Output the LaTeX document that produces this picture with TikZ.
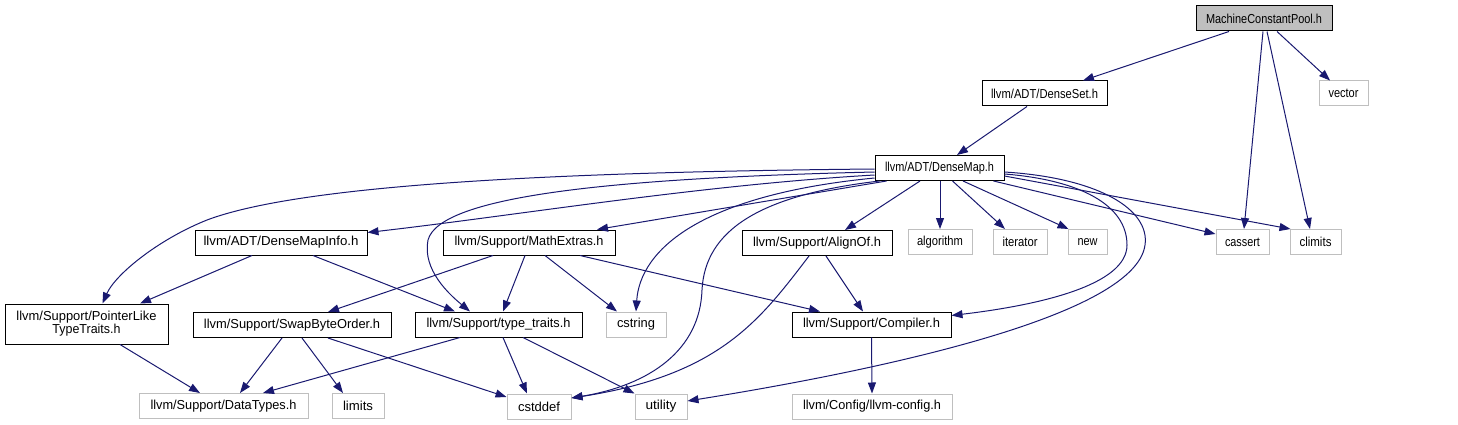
\documentclass[tikz,border=0pt]{standalone}
\usepackage{fontspec}
\usepackage{graphicx}
\setmainfont{Liberation Sans}
\usetikzlibrary{arrows.meta}
\definecolor{edgecol}{HTML}{191970}
\definecolor{lgray}{HTML}{BFBFBF}
\newcommand{\fitT}[2]{\resizebox{#1pt}{\height}{#2}}
\tikzset{
  box/.style={rectangle, draw=black, fill=white, line width=1pt, inner sep=0pt,
    minimum height=25pt, font=\fontsize{13}{14}\selectfont, text=black},
  gbox/.style={box, draw=lgray},
  edge/.style={draw=edgecol, line width=1pt, -{Triangle[length=11pt,width=8pt]}},
}
\begin{document}
\begin{tikzpicture}[x=1pt,y=-1pt]
\useasboundingbox (0,0) rectangle (1458,425);
% nodes
\node[box, fill=lgray, minimum width=136pt] (mcp) at (1264,18.5) {\fitT{116}{MachineConstantPool.h}};
\node[box, minimum width=125pt] (dset) at (1044.5,93.5) {\fitT{107}{llvm/ADT/DenseSet.h}};
\node[gbox, minimum width=49pt] (vector) at (1343.5,93.5) {\fitT{30}{vector}};
\node[box, minimum width=129pt] (dmap) at (939.5,168) {\fitT{109}{llvm/ADT/DenseMap.h}};
\node[box, minimum width=172pt] (dmi) at (281,242.5) {\fitT{155}{llvm/ADT/DenseMapInfo.h}};
\node[box, minimum width=172pt] (mext) at (529,242.5) {\fitT{149}{llvm/Support/MathExtras.h}};
\node[box, minimum width=150pt] (align) at (817,243) {\fitT{128}{llvm/Support/AlignOf.h}};
\node[gbox, minimum width=64pt] (algo) at (940,242) {\fitT{46}{algorithm}};
\node[gbox, minimum width=54pt] (iter) at (1020,242) {\fitT{35}{iterator}};
\node[gbox, minimum width=39pt] (new) at (1087.5,242) {\fitT{20}{new}};
\node[gbox, minimum width=53pt] (cassert) at (1242.5,242) {\fitT{35}{cassert}};
\node[gbox, minimum width=51pt] (climits) at (1315.5,242) {\fitT{32}{climits}};
\node[box, minimum width=163pt, minimum height=40pt, align=center] (ptr) at (86.5,324)
  {\fitT{140}{llvm/Support/PointerLike}\\[-1pt]\fitT{68}{TypeTraits.h}};
\node[box, minimum width=198pt] (swap) at (292,325) {\fitT{176}{llvm/Support/SwapByteOrder.h}};
\node[box, minimum width=167pt] (tt) at (498.5,324.5) {\fitT{144}{llvm/Support/type\_traits.h}};
\node[gbox, minimum width=60pt] (cstring) at (636,324.5) {\fitT{38}{cstring}};
\node[box, minimum width=159pt] (comp) at (871.5,324.5) {\fitT{137}{llvm/Support/Compiler.h}};
\node[gbox, minimum width=169pt] (dtypes) at (223.5,406) {\fitT{146}{llvm/Support/DataTypes.h}};
\node[gbox, minimum width=52pt] (limits) at (358,406) {\fitT{30}{limits}};
\node[gbox, minimum width=64pt] (cstddef) at (539,406.5) {\fitT{42}{cstddef}};
\node[gbox, minimum width=52pt] (utility) at (661,406.5) {\fitT{31}{utility}};
\node[gbox, minimum width=160pt] (cfg) at (872,406.5) {\fitT{138}{llvm/Config/llvm-config.h}};
% edges from MachineConstantPool.h
\draw[edge] ([xshift=-35pt]mcp.south) -- ([xshift=38.5pt]dset.north);
\draw[edge] ([xshift=-1pt]mcp.south) -- ([xshift=1.5pt]cassert.north);
\draw[edge] ([xshift=3pt]mcp.south) -- ([xshift=-5.5pt]climits.north);
\draw[edge] ([xshift=13pt]mcp.south) -- ([xshift=-13.5pt]vector.north);
% DenseSet
\draw[edge] ([xshift=-17.5pt]dset.south) -- ([xshift=17.5pt]dmap.north);
% DenseMap
\draw[edge] ([xshift=0.5pt]dmap.south) -- (algo.north);
\draw[edge] ([xshift=13pt]dmap.south) -- ([xshift=-15pt]iter.north);
\draw[edge] ([xshift=23.5pt]dmap.south) -- ([xshift=-19pt]new.north);
\draw[edge] ([xshift=-11pt]dmap.south east) -- ([yshift=8pt]cassert.west);
\draw[edge] ([yshift=-8pt]dmap.east) -- ([xshift=1pt]climits.north west);
\draw[edge] ([xshift=-19.5pt]dmap.south) -- ([xshift=28pt]align.north);
\draw[edge] ([yshift=-6pt]dmap.east) .. controls (1080,180) and (1127,205) .. (1127,245)
  .. controls (1127,285) and (1040,305) .. ([yshift=9pt]comp.east);
\draw[edge] ([yshift=-4pt]dmap.east) .. controls (1100,178) and (1150,210) .. (1145,245)
  .. controls (1135,320) and (850,375) .. ([yshift=5.5pt]utility.east);
\draw[edge] ([xshift=5pt]dmap.south west) .. controls (760,195) and (705,230) .. (702,290)
  .. controls (700,350) and (650,385) .. ([yshift=8.5pt]cstddef.east);
\draw[edge] ([yshift=-10pt]dmap.west) .. controls (700,195) and (640,250) .. (cstring.north);
\draw[edge] ([yshift=-4pt]dmap.west) .. controls (620,178) and (440,195) .. (428,240)
  .. controls (422,270) and (450,295) .. ([xshift=-28.5pt]tt.north);
\draw[edge] ([yshift=-1pt]dmap.west) .. controls (550,172) and (300,185) .. (207,220)
  .. controls (157,240) and (115,275) .. ([xshift=16pt]ptr.north);
\draw[edge] ([yshift=-7pt]dmap.west) .. controls (700,185) and (520,215) .. ([yshift=10pt]dmi.east);
\draw[edge] ([xshift=12pt]dmap.south west) -- ([xshift=68pt]mext.north);
% DenseMapInfo
\draw[edge] ([xshift=-29pt]dmi.south) -- ([xshift=53.5pt]ptr.north);
\draw[edge] ([xshift=32pt]dmi.south) -- ([xshift=-43.5pt]tt.north);
% MathExtras
\draw[edge] ([xshift=-36pt]mext.south) -- ([xshift=36pt]swap.north);
\draw[edge] ([xshift=-4pt]mext.south) -- ([xshift=4.5pt]tt.north);
\draw[edge] ([xshift=16pt]mext.south) -- ([xshift=-19pt]cstring.north);
\draw[edge] ([xshift=51pt]mext.south) -- ([xshift=-51.5pt]comp.north);
% AlignOf
\draw[edge] ([xshift=9pt]align.south) -- ([xshift=-8.5pt]comp.north);
\draw[edge] ([xshift=-8pt]align.south) .. controls (760,320) and (720,375) .. ([yshift=8.5pt]cstddef.east);
% Compiler
\draw[edge] (comp.south) -- (cfg.north);
% PointerLikeTypeTraits
\draw[edge] ([xshift=33.5pt]ptr.south) -- ([xshift=-23.5pt]dtypes.north);
% SwapByteOrder
\draw[edge] ([xshift=-10pt]swap.south) -- ([xshift=16.5pt]dtypes.north);
\draw[edge] ([xshift=10pt]swap.south) -- ([xshift=-15pt]limits.north);
\draw[edge] ([xshift=36pt]swap.south) -- ([yshift=9.5pt]cstddef.west);
% type_traits
\draw[edge] ([xshift=-38.5pt]tt.south) -- ([xshift=39.5pt]dtypes.north);
\draw[edge] ([xshift=4.5pt]tt.south) -- ([xshift=-12pt]cstddef.north);
\draw[edge] ([xshift=24.5pt]tt.south) -- (utility.north west);
\end{tikzpicture}
\end{document}
